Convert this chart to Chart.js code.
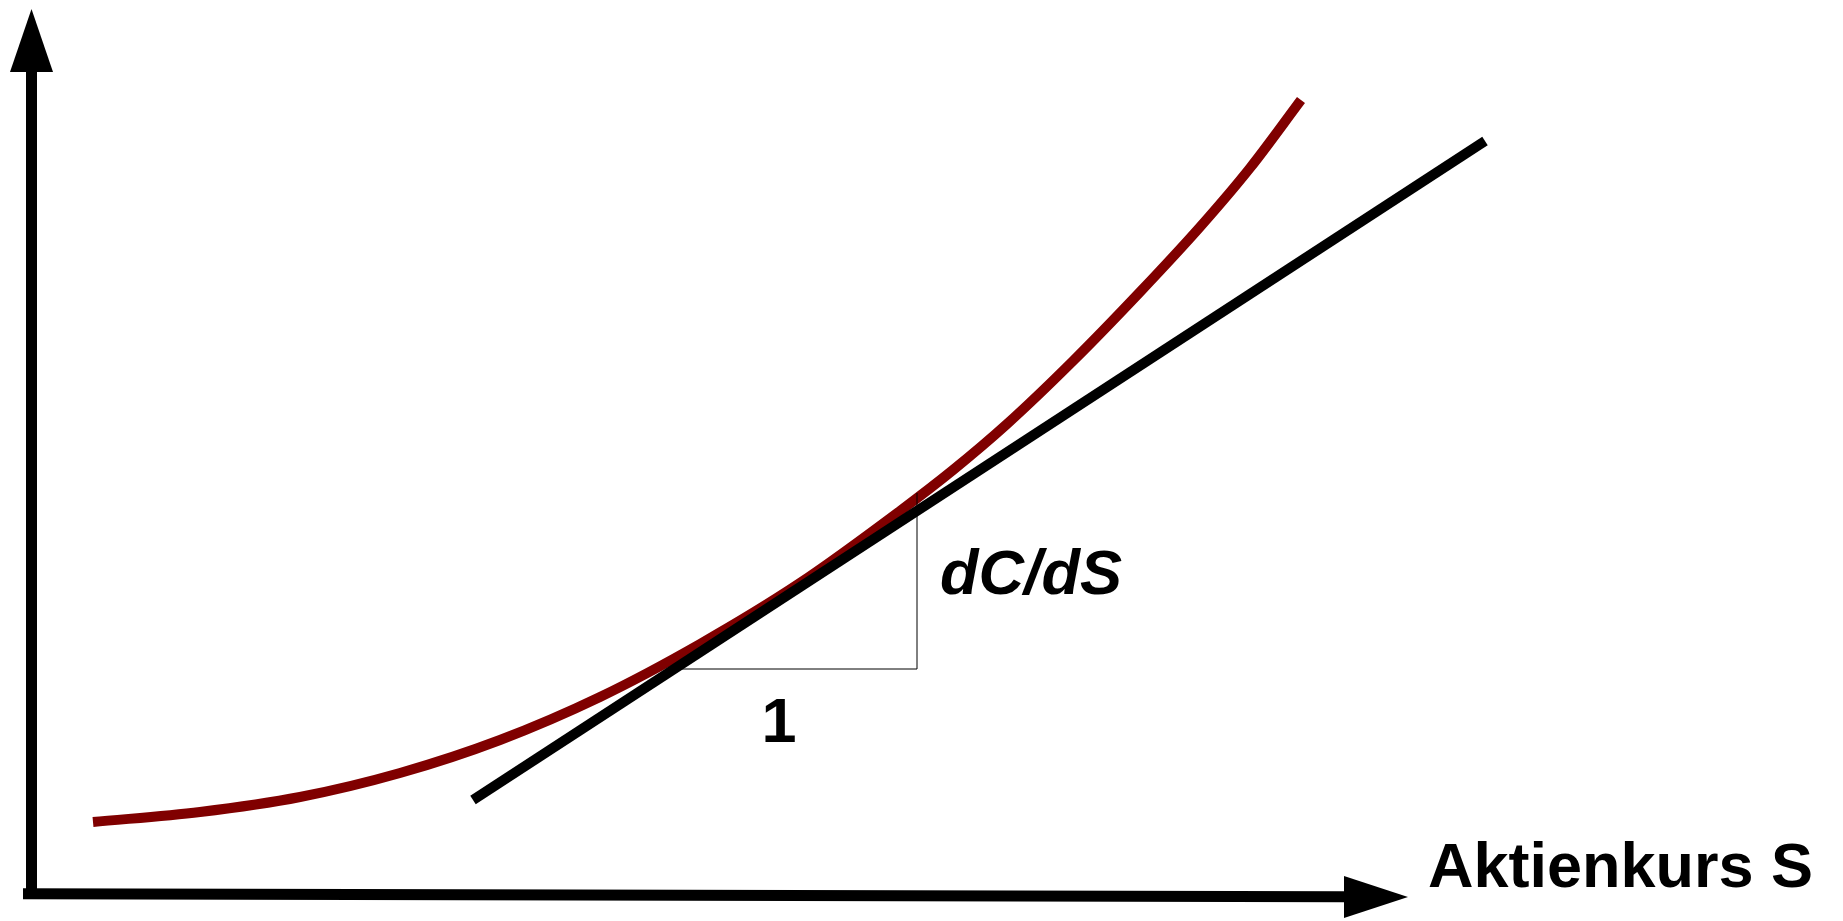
<!DOCTYPE html>
<html lang="de">
<head>
<meta charset="utf-8">
<title>Delta einer Call-Option</title>
<script src="https://cdn.jsdelivr.net/npm/chart.js@4.4.1/dist/chart.umd.min.js"></script>
<style>
  html, body { margin: 0; padding: 0; background: #fff; overflow: hidden; }
  #wrap { width: 1843px; height: 921px; }
</style>
</head>
<body>
<div id="wrap"><canvas id="chart" width="1843" height="921"></canvas></div>
<script>
// --- Werte (x = Aktienkurs S, y = Optionspreis C) ---
const kursS  = [93, 200, 300, 400, 500, 600, 700, 800, 900, 953, 1007, 1073, 1140, 1200, 1250, 1301];
const preisC = [99, 109, 124, 148, 181, 224, 277, 338, 410, 451, 497, 560, 629, 694, 753, 821];

// Tangente (Steigung dC/dS)
const tangenteS = [473, 1485];
const tangenteC = [121, 780];

// Steigungsdreieck
const dreieckS = [677, 917, 917];
const dreieckC = [252, 252, 428];

// Achsen
const achseYS = [31.5, 31.5];
const achseYC = [22, 849];
const achseXS = [23, 1344];
const achseXC = [27.3, 24.3];

const toPoints = (xs, ys) => xs.map((x, i) => ({ x, y: ys[i] }));

// --- Pfeilspitzen + Beschriftung ---
const extras = {
    id: 'extras',
    afterDatasetsDraw(chart) {
        const { ctx, scales: { x, y } } = chart;
        ctx.save();
        ctx.fillStyle = '#000';

        // Pfeil y-Achse
        ctx.beginPath();
        ctx.moveTo(x.getPixelForValue(31.5), y.getPixelForValue(912));
        ctx.lineTo(x.getPixelForValue(53), y.getPixelForValue(849));
        ctx.lineTo(x.getPixelForValue(10), y.getPixelForValue(849));
        ctx.closePath();
        ctx.fill();

        // Pfeil x-Achse
        ctx.beginPath();
        ctx.moveTo(x.getPixelForValue(1408), y.getPixelForValue(24));
        ctx.lineTo(x.getPixelForValue(1344), y.getPixelForValue(45));
        ctx.lineTo(x.getPixelForValue(1344), y.getPixelForValue(3));
        ctx.closePath();
        ctx.fill();

        // Texte
        ctx.textBaseline = 'alphabetic';
        ctx.font = 'bold 63px "Liberation Sans", Arial, sans-serif';
        ctx.textAlign = 'left';
        ctx.fillText('Aktienkurs S', x.getPixelForValue(1428), y.getPixelForValue(34));
        ctx.textAlign = 'center';
        ctx.fillText('1', x.getPixelForValue(779), y.getPixelForValue(179));
        ctx.textAlign = 'left';
        ctx.font = 'italic bold 63px "Liberation Sans", Arial, sans-serif';
        ctx.fillText('dC/dS', x.getPixelForValue(940), y.getPixelForValue(327));
        ctx.restore();
    }
};

new Chart(document.getElementById('chart'), {
    type: 'scatter',
    data: {
        datasets: [
            { data: toPoints(dreieckS, dreieckC), borderColor: '#000', borderWidth: 1, showLine: true, pointRadius: 0 },
            { data: toPoints(tangenteS, tangenteC), borderColor: '#000', borderWidth: 10, showLine: true, pointRadius: 0 },
            { data: toPoints(kursS, preisC), borderColor: '#800000', borderWidth: 10, showLine: true, pointRadius: 0, cubicInterpolationMode: 'monotone' },
            { data: toPoints(achseYS, achseYC), borderColor: '#000', borderWidth: 11, showLine: true, pointRadius: 0 },
            { data: toPoints(achseXS, achseXC), borderColor: '#000', borderWidth: 11, showLine: true, pointRadius: 0 }
        ]
    },
    options: {
        responsive: false,
        animation: false,
        layout: { padding: 0 },
        elements: { line: { borderCapStyle: 'butt', borderJoinStyle: 'miter' } },
        plugins: { legend: { display: false }, tooltip: { enabled: false } },
        scales: {
            x: { type: 'linear', min: 0, max: 1843, display: false },
            y: { type: 'linear', min: 0, max: 921, display: false }
        }
    },
    plugins: [extras]
});
</script>
</body>
</html>
